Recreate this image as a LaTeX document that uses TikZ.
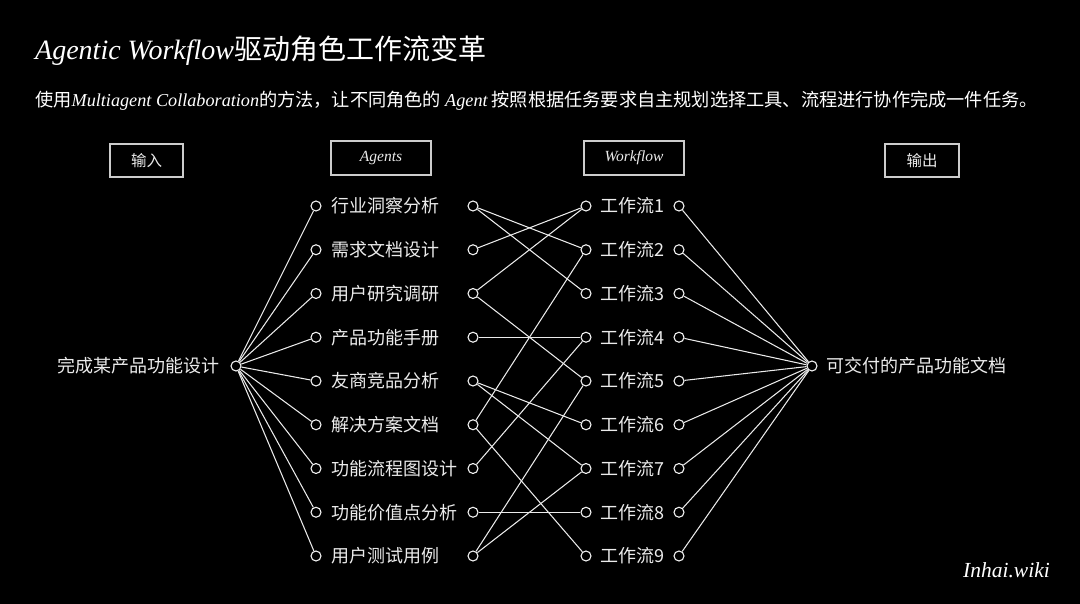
\documentclass[tikz,border=0pt]{standalone}
\usepackage{fontspec}
\setmainfont{Liberation Serif}
\newfontfamily\cjk{Noto Sans CJK SC}
\usetikzlibrary{positioning}
\tikzset{
  port/.style={circle,draw=white!95!black,line width=1.1pt,minimum size=10pt,
    inner sep=0pt},
  lbl/.style={text=white!92!black,font=\cjk\fontsize{18}{20}\selectfont,
    inner sep=0pt},
  hdbox/.style={draw=white!80!black,line width=1.2pt,text=white!92!black,
    inner sep=0pt,font=\fontsize{15.5}{17}\selectfont},
  link/.style={white!92!black,line width=1.05pt},
}

\begin{document}
\begin{tikzpicture}[x=1pt,y=-1pt]
  \useasboundingbox (0,0) rectangle (1080,604);
  \fill[black] (0,0) rectangle (1080,604);

  % title and subtitle
  \node[anchor=base west,inner sep=0pt,text=white,font=\fontsize{28}{32}\selectfont]
    (title) at (35,60) {{\itshape Agentic Workflow}{\cjk 驱动角色工作流变革}};
  \node[anchor=base west,inner sep=0pt,text=white,font=\fontsize{18.2}{20}\selectfont]
    (sub) at (35,107) {{\cjk 使用}{\itshape Multiagent Collaboration}{\cjk 的方法，让不同角色的 }{\itshape Agent}{\cjk\ 按照根据任务要求自主规划选择工具、流程进行协作完成一件任务。}};

  % column heads
  \node[hdbox,minimum width=73pt,minimum height=33pt] (hin) at (146.5,160.5) {\cjk 输入};
  \node[hdbox,minimum width=100pt,minimum height=34pt] (hag) at (381,158) {\itshape Agents};
  \node[hdbox,minimum width=100pt,minimum height=34pt] (hwf) at (634,158) {\itshape Workflow};
  \node[hdbox,minimum width=74pt,minimum height=33pt] (hout) at (922,160.5) {\cjk 输出};

  % input and output
  \node[port] (in) at (236,366) {};
  \node[lbl,anchor=east] (intxt) at (220,366) {完成某产品功能设计};
  \node[port] (out) at (812,366) {};
  \node[lbl,anchor=west] (outtxt) at (826,366) {可交付的产品功能文档};

  % agents
  \foreach \t [count=\i] in {行业洞察分析,需求文档设计,用户研究调研,产品功能手册,
      友商竞品分析,解决方案文档,功能流程图设计,功能价值点分析,用户测试用例} {
    \pgfmathsetmacro\yy{206+43.75*(\i-1)}
    \node[port] (al\i) at (316,\yy) {};
    \node[lbl,anchor=west] (at\i) at (331,\yy) {\t};
    \node[port] (ar\i) at (473,\yy) {};
  }

  % workflows
  \foreach \i in {1,...,9} {
    \pgfmathsetmacro\yy{206+43.75*(\i-1)}
    \node[port] (wl\i) at (586,\yy) {};
    \node[lbl,anchor=west] (wt\i) at (600,\yy) {工作流\i};
    \node[port] (wr\i) at (679,\yy) {};
  }

  % connectors
  \foreach \i in {1,...,9} {
    \draw[link] (in) -- (al\i);
    \draw[link] (wr\i) -- (out);
  }
  \foreach \a/\w in {1/2,1/3,2/1,3/1,3/5,4/4,5/6,5/7,6/2,6/9,7/4,8/8,9/5,9/7}
    \draw[link] (ar\a) -- (wl\w);

  \node[anchor=east,inner sep=0pt,text=white,font=\itshape\fontsize{21.5}{23}\selectfont]
    (wiki) at (1050,570) {Inhai.wiki};
\end{tikzpicture}
\end{document}
